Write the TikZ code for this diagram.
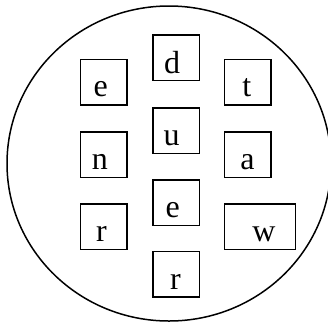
\documentclass[tikz,border=0pt]{standalone}
\usepackage{fontspec}
\setmainfont{Liberation Serif}
\begin{document}
\begin{tikzpicture}[x=1pt,y=-1pt,
  box/.style={draw=black,line width=1.5pt,minimum width=46.5pt,minimum height=45.5pt,inner sep=0pt},
  widebox/.style={box,minimum width=71pt},
  lab/.style={anchor=base,inner sep=0pt,font=\fontsize{32}{32}\selectfont}]
\useasboundingbox (0,0) rectangle (328,322);
\draw[line width=1.5pt] (169,163.5) ellipse [x radius=162, y radius=157.5];
% left column
\node[box] (b1) at (103.5,82) {};
\node[box] (b2) at (103.5,154.5) {};
\node[box] (b3) at (103.5,226.5) {};
% centre column
\node[box] (b4) at (176.2,57.5) {};
\node[box] (b5) at (176.2,130.5) {};
\node[box] (b6) at (176.2,202.5) {};
\node[box] (b7) at (176.2,274.3) {};
% right column
\node[box] (b8) at (247.6,82) {};
\node[box] (b9) at (247.6,154.5) {};
\node[widebox] (b10) at (259.8,226.5) {};
% letters
\node[lab] (t1) at (100.8,96.5) {e};
\node[lab] (t2) at (99.8,169) {n};
\node[lab] (t3) at (101.5,241) {r};
\node[lab] (t4) at (172,73) {d};
\node[lab] (t5) at (171.7,145) {u};
\node[lab] (t6) at (172.8,217) {e};
\node[lab] (t7) at (175.5,289) {r};
\node[lab] (t8) at (246.7,96.5) {t};
\node[lab] (t9) at (247.5,169) {a};
\node[lab] (t10) at (264,241) {w};
\end{tikzpicture}
\end{document}
